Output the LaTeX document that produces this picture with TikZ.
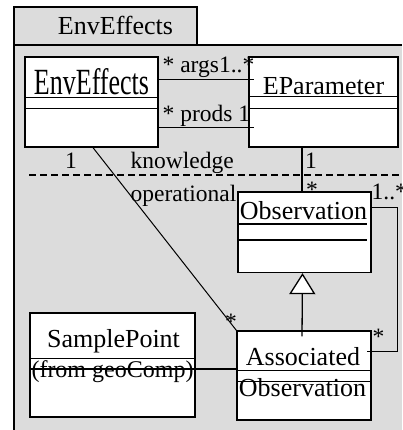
\documentclass[tikz,border=0pt]{standalone}
\usepackage{fontspec}
\setmainfont{Liberation Serif}
\usetikzlibrary{arrows.meta,calc}
\definecolor{pkggray}{RGB}{220,220,220}
\begin{document}
\begin{tikzpicture}[x=1pt,y=-1pt,line width=1.3pt,
  classbox/.style={draw,fill=white,rectangle,inner sep=0pt},
  tabbox/.style={draw,fill=pkggray,rectangle,inner sep=0pt},
  cname/.style={font=\fontsize{26}{30}\selectfont,inner sep=0pt,anchor=base},
  sname/.style={font=\fontsize{24}{28}\selectfont,inner sep=0pt,anchor=base},
  lbl/.style={font=\fontsize{23.5}{28}\selectfont,inner sep=0pt,anchor=base west},
  lblc/.style={font=\fontsize{23.5}{28}\selectfont,inner sep=0pt,anchor=base},
  assoc/.style={draw,line width=1.3pt},
  thinassoc/.style={draw,line width=1pt},
  boundary/.style={draw,line width=1.2pt,dash pattern=on 7pt off 4pt},
  genline/.style={draw,line width=1.3pt,
    -{Triangle[length=21pt,width=26pt,fill=white,line join=miter]}}]
\useasboundingbox (0,0) rectangle (402,430);

% package body and tab
\fill[pkggray] (14,45) rectangle (402,430);
\draw (14,430) -- (14,45) -- (402,45);
\node[tabbox,minimum width=183pt,minimum height=38pt] (tab) at (105.5,26) {};
\node[cname] (tabname) at (115.5,35) {EnvEffects};

% knowledge / operational boundary
\draw[boundary] (29,175) -- (402,175);

% classes
\node[classbox,minimum width=133pt,minimum height=90pt] (env) at (91.5,102) {};
\node[classbox,minimum width=149pt,minimum height=90pt] (epar) at (323.5,102) {};
\node[classbox,minimum width=133pt,minimum height=80.5pt] (obs) at (304.5,232.25) {};
\node[classbox,minimum width=134pt,minimum height=89pt] (asso) at (304,375.5) {};
\node[classbox,minimum width=165pt,minimum height=104pt] (samp) at (112.5,365) {};

% compartments
\draw ($(env.north west)+(0,41)$) -- ($(env.north east)+(0,41)$);
\draw ($(env.north west)+(0,52)$) -- ($(env.north east)+(0,52)$);
\draw ($(epar.north west)+(0,40.5)$) -- ($(epar.north east)+(0,40.5)$);
\draw ($(epar.north west)+(0,52)$) -- ($(epar.north east)+(0,52)$);
\draw ($(obs.north west)+(0,32.5)$) -- ($(obs.north east)+(-4.5,32.5)$);
\draw ($(obs.north west)+(0,48.5)$) -- ($(obs.north east)+(-4.5,48.5)$);
\draw ($(asso.north west)+(0,40)$) -- ($(asso.north east)+(0,40)$);
\draw ($(asso.north west)+(0,51)$) -- ($(asso.north east)+(0,51)$);
\draw ($(samp.north west)+(0,46)$) -- ($(samp.north east)+(0,46)$);

% class names
\node[cname] (envname) at (91.5,95) {\scalebox{1}[1.42]{EnvEffects}};
\node[cname] (eparname) at (323.5,95) {EParameter};
\node[cname] (obsname) at (303.5,219.5) {Observation};
\node[cname] (asname1) at (303,365) {Associated};
\node[cname] (asname2) at (302.5,396) {Observation};
\node[cname] (sampname) at (113.5,347) {SamplePoint};
\node[sname] (sampfrom) at (112.5,377) {(from geoComp)};

% associations
\draw[assoc] ($(env.north east)+(0,23)$) -- ($(epar.north west)+(6,23)$);
\draw[assoc] ($(env.north east)+(0,71)$) -- ($(epar.north west)+(6,71)$);
\draw[thinassoc] ([xshift=1.5pt]env.south) -- (asso.north west);
\draw[assoc] ([xshift=-21.5pt]epar.south) -- ([xshift=-21.5pt]epar.south |- obs.north);
\draw[assoc] ($(obs.north east)+(0,16)$) -- ++(26,0) |- ($(asso.north east)+(-5,21)$);
\draw[assoc] ($(samp.north west)+(0,56.5)$) -- ($(asso.north west)+(0,38.5)$);
\draw[genline] ([xshift=-2pt,yshift=-6pt]asso.north) -- ([xshift=-2pt]obs.south);

% multiplicities and role names
\node[lbl] (largs) at (162,73) {* args1..*};
\node[lbl] (lprods) at (162,121.5) {* prods 1};
\node[lblc] (lenv1) at (71,169) {1};
\node[lbl] (lknow) at (130,169) {knowledge};
\node[lblc] (lepar1) at (311,169) {1};
\node[lbl] (loper) at (130,201) {operational};
\node[lblc] (lobsstar) at (312,197) {*};
\node[lbl] (lobsmany) at (371,199) {1..*};
\node[lbl] (lasstar) at (372,344) {*};
\node[lblc] (lenvstar) at (231,329) {*};
\end{tikzpicture}
\end{document}
